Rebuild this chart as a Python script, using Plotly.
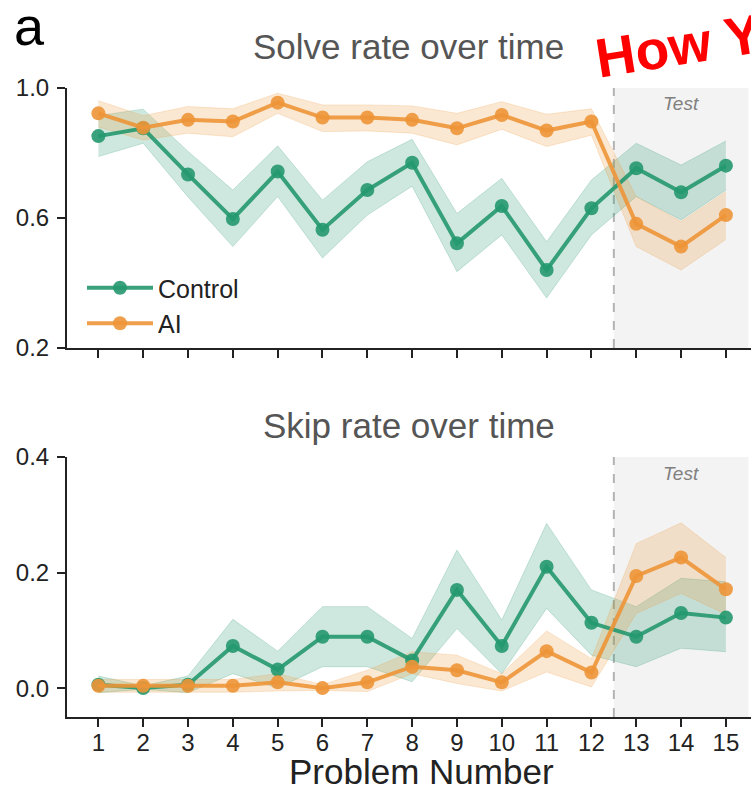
import plotly.graph_objects as go
from plotly.subplots import make_subplots

# ---------------- data ----------------
problems = list(range(1, 16))
tick_labels = [str(p) for p in problems]

solve_control = [0.852, 0.876, 0.734, 0.597, 0.743, 0.564, 0.686, 0.770, 0.522, 0.637, 0.440, 0.630, 0.753, 0.679, 0.761]
solve_control_lo = [0.789, 0.830, 0.665, 0.512, 0.666, 0.477, 0.609, 0.698, 0.435, 0.548, 0.354, 0.548, 0.666, 0.594, 0.686]
solve_control_hi = [0.915, 0.935, 0.805, 0.686, 0.822, 0.655, 0.773, 0.842, 0.614, 0.722, 0.527, 0.717, 0.830, 0.763, 0.837]

solve_ai = [0.922, 0.878, 0.902, 0.897, 0.955, 0.909, 0.909, 0.902, 0.876, 0.917, 0.869, 0.897, 0.582, 0.512, 0.609]
solve_ai_lo = [0.880, 0.840, 0.861, 0.850, 0.922, 0.866, 0.868, 0.861, 0.825, 0.873, 0.820, 0.855, 0.512, 0.440, 0.534]
solve_ai_hi = [0.961, 0.915, 0.943, 0.936, 0.984, 0.948, 0.948, 0.945, 0.922, 0.958, 0.919, 0.936, 0.666, 0.589, 0.681]

skip_control = [0.006, 0.000, 0.006, 0.073, 0.032, 0.089, 0.089, 0.048, 0.170, 0.073, 0.210, 0.113, 0.089, 0.130, 0.122]
skip_control_lo = [-0.008, -0.002, -0.008, 0.025, 0.000, 0.037, 0.037, 0.011, 0.103, 0.025, 0.138, 0.057, 0.037, 0.069, 0.063]
skip_control_hi = [0.021, 0.004, 0.021, 0.119, 0.064, 0.141, 0.141, 0.086, 0.239, 0.118, 0.285, 0.170, 0.141, 0.190, 0.184]

skip_ai = [0.004, 0.004, 0.004, 0.004, 0.010, 0.000, 0.010, 0.037, 0.031, 0.010, 0.064, 0.027, 0.194, 0.226, 0.171]
skip_ai_lo = [-0.007, -0.007, -0.007, -0.007, -0.005, -0.004, -0.006, 0.025, 0.008, -0.005, 0.028, 0.002, 0.129, 0.164, 0.128]
skip_ai_hi = [0.015, 0.015, 0.015, 0.015, 0.025, 0.006, 0.031, 0.063, 0.057, 0.025, 0.099, 0.051, 0.250, 0.286, 0.226]

solve_ticks = [0.2, 0.6, 1.0]
skip_ticks = [0.0, 0.2, 0.4]

# ---------------- style ----------------
FONT = "Liberation Sans, Arial, Helvetica, sans-serif"
GREEN = (35, 152, 110)
ORANGE = (237, 149, 55)


def rgba(c, a):
    return f"rgba({c[0]},{c[1]},{c[2]},{a})"


W, H = 751, 790
ML = 67
PW = W - ML


def px_x(p):
    return (p - ML) / PW


def px_y(p):
    return 1 - p / H


fig = make_subplots(rows=2, cols=1)


def add_band(row, lo, hi, color):
    fig.add_trace(go.Scatter(x=problems, y=hi, mode="lines",
                             line=dict(color=rgba(color, 0.22), width=1),
                             showlegend=False, hoverinfo="skip"), row=row, col=1)
    fig.add_trace(go.Scatter(x=problems, y=lo, mode="lines", fill="tonexty",
                             fillcolor=rgba(color, 0.22),
                             line=dict(color=rgba(color, 0.22), width=1),
                             showlegend=False, hoverinfo="skip"), row=row, col=1)


def add_line(row, y, color, name, show_legend):
    fig.add_trace(go.Scatter(x=problems, y=y, mode="lines+markers", name=name,
                             line=dict(color=rgba(color, 0.9), width=4),
                             marker=dict(color=rgba(color, 0.9), size=14),
                             showlegend=show_legend), row=row, col=1)


add_band(1, solve_control_lo, solve_control_hi, GREEN)
add_band(1, solve_ai_lo, solve_ai_hi, ORANGE)
add_line(1, solve_control, GREEN, "Control", True)
add_line(1, solve_ai, ORANGE, "AI", True)

add_band(2, skip_control_lo, skip_control_hi, GREEN)
add_band(2, skip_ai_lo, skip_ai_hi, ORANGE)
add_line(2, skip_control, GREEN, "Control", False)
add_line(2, skip_ai, ORANGE, "AI", False)

axis_common = dict(showline=True, linecolor="#222222", linewidth=2, ticks="outside",
                   ticklen=8, tickwidth=2, tickcolor="#222222", showgrid=False,
                   zeroline=False, automargin=False,
                   tickfont=dict(family=FONT, size=24, color="#222222"))

xr = [0.3, 15.56]
fig.update_layout(
    xaxis=dict(domain=[0, 1], range=xr, tickvals=problems, showticklabels=False, **axis_common),
    xaxis2=dict(domain=[0, 1], range=xr, tickvals=problems, ticktext=tick_labels,
                ticklabelstandoff=-5, **axis_common),
    yaxis=dict(domain=[px_y(348), px_y(88)], range=[0.2, 1.0], tickvals=solve_ticks,
               ticktext=[f"{v:.1f}" for v in solve_ticks], ticklabelstandoff=3, **axis_common),
    yaxis2=dict(domain=[px_y(717), px_y(457)], range=[-0.05, 0.4], tickvals=skip_ticks,
                ticktext=[f"{v:.1f}" for v in skip_ticks], ticklabelstandoff=3, **axis_common),
)

shapes = []
annotations = []
for xa, ya, ty in (("x", "y", 0.942), ("x2", "y2", 0.938)):
    shapes.append(dict(type="rect", xref=xa, yref=f"{ya} domain", x0=12.5, x1=15.5, y0=0, y1=1,
                       fillcolor="#f3f3f3", line=dict(width=0), layer="below"))
    shapes.append(dict(type="line", xref=xa, yref=f"{ya} domain", x0=12.5, x1=12.5, y0=0, y1=1,
                       line=dict(color="#b3b3b3", width=2, dash="dash"), layer="below"))
    annotations.append(dict(text="<i>Test</i>", xref=xa, yref=f"{ya} domain", x=14, y=ty,
                            showarrow=False, font=dict(family=FONT, size=19, color="#808080"),
                            xanchor="center", yanchor="middle"))

annotations += [
    dict(text="Solve rate over time", xref="paper", yref="paper", x=px_x(408), y=px_y(47),
         showarrow=False, xanchor="center", yanchor="middle",
         font=dict(family=FONT, size=35, color="#555555")),
    dict(text="Skip rate over time", xref="paper", yref="paper", x=px_x(409), y=px_y(425),
         showarrow=False, xanchor="center", yanchor="middle",
         font=dict(family=FONT, size=35, color="#555555")),
    dict(text="Problem Number", xref="paper", yref="paper", x=px_x(421), y=px_y(771),
         showarrow=False, xanchor="center", yanchor="middle",
         font=dict(family=FONT, size=35, color="#222222")),
    dict(text="a", xref="paper", yref="paper", x=px_x(12), y=px_y(26),
         showarrow=False, xanchor="left", yanchor="middle",
         font=dict(family=FONT, size=54, color="#000000")),
    dict(text="<b>How Y</b>", xref="paper", yref="paper", x=px_x(678), y=px_y(46),
         showarrow=False, xanchor="center", yanchor="middle", textangle=-9,
         font=dict(family=FONT, size=55, color="#ff0000")),
]

fig.update_layout(
    width=W, height=H,
    margin=dict(l=ML, r=0, t=0, b=0, autoexpand=False),
    paper_bgcolor="white", plot_bgcolor="white",
    shapes=shapes, annotations=annotations,
    legend=dict(x=px_x(82), y=px_y(265), xanchor="left", yanchor="top",
                bgcolor="rgba(0,0,0,0)", font=dict(family=FONT, size=25, color="#222222"),
                itemwidth=66, tracegroupgap=0, traceorder="normal"),
    showlegend=True,
)

fig.write_html("out.html", config={"displayModeBar": False},
               post_script="document.body.style.margin='0';document.body.style.overflow='hidden';")
